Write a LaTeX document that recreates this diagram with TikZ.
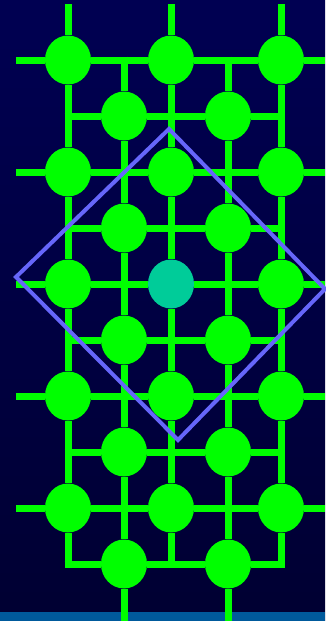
\documentclass[tikz,border=0pt]{standalone}
\usepackage{xcolor}
\usepackage{tikz}
\usetikzlibrary{shapes.geometric}

\definecolor{skytop}{RGB}{0,0,82}
\definecolor{skybot}{RGB}{0,0,50}
\definecolor{strip}{RGB}{0,90,156}
\definecolor{atomgreen}{RGB}{0,255,0}
\definecolor{atomteal}{RGB}{0,204,153}
\definecolor{cellblue}{RGB}{102,102,250}

\begin{document}
\begin{tikzpicture}[x=1pt, y=-1pt,
  atom/.style={ellipse, fill=atomgreen, minimum width=46pt, minimum height=49pt, inner sep=0pt},
  mid/.style={atom, fill=atomteal},
  bond/.style={draw=atomgreen, line width=7pt},
  cell/.style={draw=cellblue, line width=4pt}
]
\useasboundingbox (0,0) rectangle (325,621);
\shade[top color=skytop, bottom color=skybot] (0,0) rectangle (325,621);
\fill[strip] (0,612) rectangle (325,621);
% corner atoms
\node[atom] (a11) at (68,60) {};  \node[atom] (a21) at (171,60) {};  \node[atom] (a31) at (281,60) {};
\node[atom] (a12) at (68,172) {}; \node[atom] (a22) at (171,172) {}; \node[atom] (a32) at (281,172) {};
\node[atom] (a13) at (68,284) {}; \node[mid]  (a23) at (171,284) {}; \node[atom] (a33) at (281,284) {};
\node[atom] (a14) at (68,396) {}; \node[atom] (a24) at (171,396) {}; \node[atom] (a34) at (281,396) {};
\node[atom] (a15) at (68,508) {}; \node[atom] (a25) at (171,508) {}; \node[atom] (a35) at (281,508) {};
% body atoms
\node[atom] (b11) at (124,116) {}; \node[atom] (b21) at (228,116) {};
\node[atom] (b12) at (124,228) {}; \node[atom] (b22) at (228,228) {};
\node[atom] (b13) at (124,340) {}; \node[atom] (b23) at (228,340) {};
\node[atom] (b14) at (124,452) {}; \node[atom] (b24) at (228,452) {};
\node[atom] (b15) at (124,564) {}; \node[atom] (b25) at (228,564) {};
% rows
\draw[bond] ([xshift=-52pt]a11.center) -- (a11) -- (a21) -- (a31) -- ([xshift=44pt]a31.center);
\draw[bond] ([xshift=-52pt]a12.center) -- (a12) -- (a22) -- (a32) -- ([xshift=44pt]a32.center);
\draw[bond] ([xshift=-52pt]a13.center) -- (a13) -- (a23) -- (a33) -- ([xshift=44pt]a33.center);
\draw[bond] ([xshift=-52pt]a14.center) -- (a14) -- (a24) -- (a34) -- ([xshift=44pt]a34.center);
\draw[bond] ([xshift=-52pt]a15.center) -- (a15) -- (a25) -- (a35) -- ([xshift=44pt]a35.center);
\draw[bond] ([xshift=-59.5pt]b11.center) -- (b11) -- (b21) -- ([xshift=56.5pt]b21.center);
\draw[bond] ([xshift=-59.5pt]b12.center) -- (b12) -- (b22) -- ([xshift=56.5pt]b22.center);
\draw[bond] ([xshift=-59.5pt]b13.center) -- (b13) -- (b23) -- ([xshift=56.5pt]b23.center);
\draw[bond] ([xshift=-59.5pt]b14.center) -- (b14) -- (b24) -- ([xshift=56.5pt]b24.center);
\draw[bond] ([xshift=-59.5pt]b15.center) -- (b15) -- (b25) -- ([xshift=56.5pt]b25.center);
% columns
\draw[bond] ([yshift=56pt]a11.center) -- (a11) -- (a12) -- (a13) -- (a14) -- (a15) -- ([yshift=-59.5pt]a15.center);
\draw[bond] ([yshift=56pt]a21.center) -- (a21) -- (a22) -- (a23) -- (a24) -- (a25) -- ([yshift=-59.5pt]a25.center);
\draw[bond] ([yshift=56pt]a31.center) -- (a31) -- (a32) -- (a33) -- (a34) -- (a35) -- ([yshift=-59.5pt]a35.center);
\draw[bond] ([yshift=59.5pt]b11.center) -- (b11) -- (b12) -- (b13) -- (b14) -- (b15) -- ([yshift=-57pt]b15.center);
\draw[bond] ([yshift=59.5pt]b21.center) -- (b21) -- (b22) -- (b23) -- (b24) -- (b25) -- ([yshift=-57pt]b25.center);
% unit cell
\draw[cell] (169,129) -- (325,289) -- (178,440) -- (16,277) -- cycle;
\end{tikzpicture}
\end{document}
